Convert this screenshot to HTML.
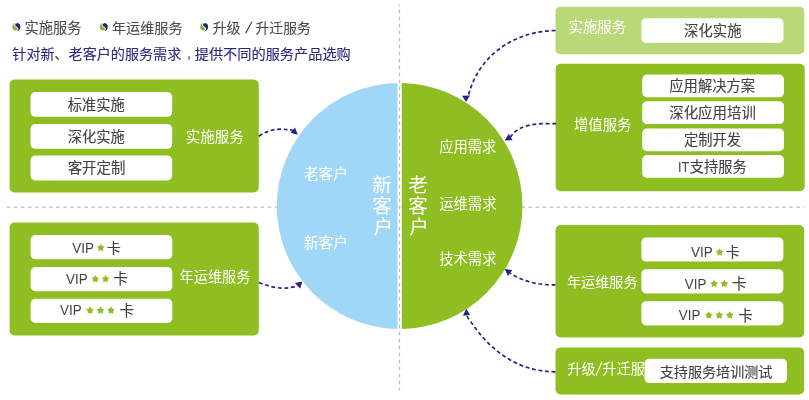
<!DOCTYPE html>
<html lang="zh-CN">
<head>
<meta charset="utf-8">
<title>服务产品选购</title>
<style>
html,body{margin:0;padding:0;background:#fff;}
body{width:809px;height:400px;overflow:hidden;position:relative;font-family:"Liberation Sans","Noto Sans CJK SC",sans-serif;}
svg{position:absolute;left:0;top:0;display:block;will-change:transform;}
svg text{font-family:"Liberation Sans","Noto Sans CJK SC",sans-serif;}
.sr{position:absolute;left:0;top:0;width:809px;height:400px;color:transparent;overflow:hidden;}
.sr span{position:absolute;white-space:nowrap;line-height:1.2;font-family:"Liberation Sans","Noto Sans CJK SC",sans-serif;}
</style>
</head>
<body>
<svg width="809" height="400" viewBox="0 0 809 400">
<path d="M399.5 4.5V390.4" stroke="#bcbcc4" stroke-width="1.3" stroke-dasharray="3.6 3.4" stroke-dashoffset="1.75" fill="none"/><path d="M6.75 207H804.3" stroke="#bcbcc4" stroke-width="1.25" stroke-dasharray="3.6 3.45" fill="none"/><path d="M397.50 83.07A122.95 122.95 0 0 0 397.50 328.93Z" fill="#a1d7f6"/><path d="M401.75 83.07A122.95 122.95 0 0 1 401.75 328.93Z" fill="#8fbe22"/><rect x="9.60" y="79.50" width="249.20" height="113.00" rx="5.0" fill="#8fbe22"/><rect x="9.60" y="222.60" width="249.20" height="112.90" rx="5.0" fill="#8fbe22"/><rect x="555.50" y="6.70" width="248.80" height="47.60" rx="5.0" fill="#b9d877"/><rect x="555.60" y="63.80" width="249.10" height="127.50" rx="5.0" fill="#8fbe22"/><rect x="555.50" y="225.00" width="248.70" height="112.50" rx="5.0" fill="#8fbe22"/><rect x="555.50" y="347.50" width="248.70" height="47.00" rx="5.0" fill="#8fbe22"/><g transform="translate(16.35 26.90) rotate(8)"><circle r="3.95" fill="#8ab836"/><path d="M0 -3.95 A3.95 3.95 0 0 1 0 3.95 A1.98 1.98 0 0 0 0 0 A1.98 1.98 0 0 1 0 -3.95 Z" fill="#23237c"/><path d="M0 -3.95 A1.98 1.98 0 0 0 0 0 A1.98 1.98 0 0 1 0 3.95" fill="none" stroke="#fff" stroke-width="0.9"/></g><g transform="translate(103.70 26.90) rotate(8)"><circle r="3.95" fill="#8ab836"/><path d="M0 -3.95 A3.95 3.95 0 0 1 0 3.95 A1.98 1.98 0 0 0 0 0 A1.98 1.98 0 0 1 0 -3.95 Z" fill="#23237c"/><path d="M0 -3.95 A1.98 1.98 0 0 0 0 0 A1.98 1.98 0 0 1 0 3.95" fill="none" stroke="#fff" stroke-width="0.9"/></g><g transform="translate(204.10 26.90) rotate(8)"><circle r="3.95" fill="#8ab836"/><path d="M0 -3.95 A3.95 3.95 0 0 1 0 3.95 A1.98 1.98 0 0 0 0 0 A1.98 1.98 0 0 1 0 -3.95 Z" fill="#23237c"/><path d="M0 -3.95 A1.98 1.98 0 0 0 0 0 A1.98 1.98 0 0 1 0 3.95" fill="none" stroke="#fff" stroke-width="0.9"/></g><text x="24.59" y="32.91" font-size="14.24" fill="#4a4a4a" stroke="#4a4a4a" stroke-width="0.09">实施服务</text><text x="111.92" y="32.87" font-size="14.13" fill="#4a4a4a" stroke="#4a4a4a" stroke-width="0.09">年运维服务</text><text x="212.44" y="32.87" font-size="14.12" fill="#4a4a4a" stroke="#4a4a4a" stroke-width="0.09">升级</text><path d="M245.60 33.10L251.90 21.70" stroke="#4a4a4a" stroke-width="1.20" fill="none"/><text x="255.45" y="32.77" font-size="13.87" fill="#4a4a4a" stroke="#4a4a4a" stroke-width="0.09">升迁服务</text><text x="12.31" y="58.55" font-size="14.09" fill="#2b2b7d" stroke="#2b2b7d" stroke-width="0.13">针对新、老客户的服务需求</text><text x="187.01" y="58.30" font-size="14.5" fill="#2b2b7d">,</text><text x="194.69" y="58.60" font-size="14.2" fill="#2b2b7d" stroke="#2b2b7d" stroke-width="0.13">提供不同的服务产品选购</text><rect x="30.50" y="92.00" width="141.70" height="24.80" rx="4.8" fill="#fff"/><rect x="30.50" y="124.00" width="141.70" height="24.80" rx="4.8" fill="#fff"/><rect x="30.50" y="155.60" width="141.70" height="24.80" rx="4.8" fill="#fff"/><text x="67.86" y="109.92" font-size="14.26" fill="#424242" stroke="#424242" stroke-width="0.11">标准实施</text><text x="67.66" y="141.54" font-size="14.31" fill="#424242" stroke="#424242" stroke-width="0.11">深化实施</text><text x="67.69" y="173.19" font-size="14.44" fill="#424242" stroke="#424242" stroke-width="0.11">客开定制</text><text x="185.77" y="142.02" font-size="14.52" fill="#fff">实施服务</text><rect x="30.60" y="235.10" width="141.70" height="24.20" rx="4.8" fill="#fff"/><rect x="30.60" y="267.00" width="141.70" height="24.20" rx="4.8" fill="#fff"/><rect x="30.60" y="298.80" width="141.70" height="24.20" rx="4.8" fill="#fff"/><text x="72.20" y="252.70" font-size="14.00" fill="#424242" text-anchor="start" textLength="21.8" lengthAdjust="spacingAndGlyphs">VIP</text><polygon points="100.80,243.75 102.10,246.06 104.70,246.58 102.91,248.53 103.21,251.17 100.80,250.06 98.39,251.17 98.69,248.53 96.90,246.58 99.50,246.06" fill="#8fbe22"/><text x="106.87" y="252.94" font-size="14.05" fill="#424242" stroke="#424242" stroke-width="0.11">卡</text><text x="66.00" y="284.00" font-size="14.00" fill="#424242" text-anchor="start" textLength="21.6" lengthAdjust="spacingAndGlyphs">VIP</text><polygon points="95.40,275.05 96.70,277.36 99.30,277.88 97.51,279.83 97.81,282.47 95.40,281.36 92.99,282.47 93.29,279.83 91.50,277.88 94.10,277.36" fill="#8fbe22"/><polygon points="105.50,275.05 106.80,277.36 109.40,277.88 107.61,279.83 107.91,282.47 105.50,281.36 103.09,282.47 103.39,279.83 101.60,277.88 104.20,277.36" fill="#8fbe22"/><text x="113.25" y="284.41" font-size="14.49" fill="#424242" stroke="#424242" stroke-width="0.11">卡</text><text x="60.00" y="315.30" font-size="14.00" fill="#424242" text-anchor="start" textLength="21.6" lengthAdjust="spacingAndGlyphs">VIP</text><polygon points="90.00,306.35 91.30,308.66 93.90,309.18 92.11,311.13 92.41,313.77 90.00,312.66 87.59,313.77 87.89,311.13 86.10,309.18 88.70,308.66" fill="#8fbe22"/><polygon points="100.50,306.35 101.80,308.66 104.40,309.18 102.61,311.13 102.91,313.77 100.50,312.66 98.09,313.77 98.39,311.13 96.60,309.18 99.20,308.66" fill="#8fbe22"/><polygon points="111.00,306.35 112.30,308.66 114.90,309.18 113.11,311.13 113.41,313.77 111.00,312.66 108.59,313.77 108.89,311.13 107.10,309.18 109.70,308.66" fill="#8fbe22"/><text x="119.45" y="315.71" font-size="14.49" fill="#424242" stroke="#424242" stroke-width="0.11">卡</text><text x="179.52" y="282.40" font-size="14.21" fill="#fff">年运维服务</text><text x="303.81" y="179.11" font-size="14.76" fill="#fff">老客户</text><text x="303.69" y="248.22" font-size="14.8" fill="#fff">新客户</text><text x="439.18" y="152.24" font-size="14.32" fill="#fff">应用需求</text><text x="439.17" y="209.14" font-size="14.33" fill="#fff">运维需求</text><text x="439.17" y="263.74" font-size="14.33" fill="#fff">技术需求</text><text x="372.24" y="191.79" font-size="19.5" fill="#fff">新</text><text x="372.25" y="212.71" font-size="19.5" fill="#fff">客</text><text x="373.45" y="233.70" font-size="19.5" fill="#fff">户</text><text x="408.32" y="191.86" font-size="19.5" fill="#fff">老</text><text x="408.15" y="212.71" font-size="19.5" fill="#fff">客</text><text x="409.35" y="233.70" font-size="19.5" fill="#fff">户</text><rect x="641.40" y="18.20" width="142.10" height="24.90" rx="4.8" fill="#fff"/><text x="568.58" y="31.77" font-size="14.4" fill="#fff">实施服务</text><text x="684.05" y="35.96" font-size="14.37" fill="#424242" stroke="#424242" stroke-width="0.11">深化实施</text><rect x="642.20" y="74.50" width="141.80" height="22.80" rx="4.8" fill="#fff"/><rect x="642.20" y="101.30" width="141.80" height="22.80" rx="4.8" fill="#fff"/><rect x="642.20" y="128.40" width="141.80" height="22.80" rx="4.8" fill="#fff"/><rect x="642.20" y="155.00" width="141.80" height="22.80" rx="4.8" fill="#fff"/><text x="574.01" y="130.05" font-size="14.34" fill="#fff">增值服务</text><text x="669.28" y="91.44" font-size="14.32" fill="#424242" stroke="#424242" stroke-width="0.11">应用解决方案</text><text x="669.25" y="118.49" font-size="14.44" fill="#424242" stroke="#424242" stroke-width="0.11">深化应用培训</text><text x="683.89" y="145.23" font-size="14.28" fill="#424242" stroke="#424242" stroke-width="0.11">定制开发</text><text x="678.00" y="171.60" font-size="14.00" fill="#424242" text-anchor="start" textLength="11.4" lengthAdjust="spacingAndGlyphs">IT</text><text x="689.69" y="171.63" font-size="14.29" fill="#424242" stroke="#424242" stroke-width="0.11">支持服务</text><rect x="641.40" y="237.40" width="142.00" height="24.20" rx="4.8" fill="#fff"/><rect x="641.40" y="269.20" width="142.00" height="24.20" rx="4.8" fill="#fff"/><rect x="641.40" y="301.20" width="142.00" height="24.20" rx="4.8" fill="#fff"/><text x="566.92" y="286.67" font-size="14.13" fill="#fff">年运维服务</text><text x="691.00" y="257.20" font-size="14.00" fill="#424242" text-anchor="start" textLength="21.8" lengthAdjust="spacingAndGlyphs">VIP</text><polygon points="719.60,248.25 720.90,250.56 723.50,251.08 721.71,253.03 722.01,255.67 719.60,254.56 717.19,255.67 717.49,253.03 715.70,251.08 718.30,250.56" fill="#8fbe22"/><text x="725.67" y="257.44" font-size="14.05" fill="#424242" stroke="#424242" stroke-width="0.11">卡</text><text x="684.80" y="288.70" font-size="14.00" fill="#424242" text-anchor="start" textLength="21.6" lengthAdjust="spacingAndGlyphs">VIP</text><polygon points="714.20,279.75 715.50,282.06 718.10,282.58 716.31,284.53 716.61,287.17 714.20,286.06 711.79,287.17 712.09,284.53 710.30,282.58 712.90,282.06" fill="#8fbe22"/><polygon points="724.30,279.75 725.60,282.06 728.20,282.58 726.41,284.53 726.71,287.17 724.30,286.06 721.89,287.17 722.19,284.53 720.40,282.58 723.00,282.06" fill="#8fbe22"/><text x="732.05" y="289.11" font-size="14.49" fill="#424242" stroke="#424242" stroke-width="0.11">卡</text><text x="678.80" y="320.20" font-size="14.00" fill="#424242" text-anchor="start" textLength="21.6" lengthAdjust="spacingAndGlyphs">VIP</text><polygon points="708.80,311.25 710.10,313.56 712.70,314.08 710.91,316.03 711.21,318.67 708.80,317.56 706.39,318.67 706.69,316.03 704.90,314.08 707.50,313.56" fill="#8fbe22"/><polygon points="719.30,311.25 720.60,313.56 723.20,314.08 721.41,316.03 721.71,318.67 719.30,317.56 716.89,318.67 717.19,316.03 715.40,314.08 718.00,313.56" fill="#8fbe22"/><polygon points="729.80,311.25 731.10,313.56 733.70,314.08 731.91,316.03 732.21,318.67 729.80,317.56 727.39,318.67 727.69,316.03 725.90,314.08 728.50,313.56" fill="#8fbe22"/><text x="738.25" y="320.61" font-size="14.49" fill="#424242" stroke="#424242" stroke-width="0.11">卡</text><text x="567.54" y="373.85" font-size="14.07" fill="#fff">升级</text><path d="M596.00 375.40L602.00 361.80" stroke="#fff" stroke-width="1.15" fill="none"/><text x="602.13" y="373.94" font-size="14.31" fill="#fff">升迁服务</text><rect x="644.50" y="358.70" width="142.50" height="24.40" rx="4.8" fill="#fff"/><text x="659.79" y="376.55" font-size="14.08" fill="#424242" stroke="#424242" stroke-width="0.11">支持服务培训测试</text><path d="M258.8 136.2C270.6 128.6 279.4 128.0 292.8 130.4" fill="none" stroke="#25257d" stroke-width="1.7" stroke-dasharray="3.9 2.7"/><polygon points="297.80,134.80 295.00,127.40 290.50,132.80" fill="#25257d"/><path d="M258.8 282.5C272.2 287.8 283.6 290.1 297.6 285.9" fill="none" stroke="#25257d" stroke-width="1.7" stroke-dasharray="3.9 2.7"/><polygon points="302.20,281.40 295.00,283.00 300.30,288.80" fill="#25257d"/><path d="M555.5 30.5C514.7 31.2 478.7 54.8 468.4 95.5" fill="none" stroke="#25257d" stroke-width="1.7" stroke-dasharray="3.9 2.7"/><polygon points="466.00,102.00 462.00,95.70 470.00,95.40" fill="#25257d"/><path d="M556.0 123.6C541.7 123.6 519.3 122.5 510.6 137.0" fill="none" stroke="#25257d" stroke-width="1.7" stroke-dasharray="3.9 2.7"/><polygon points="504.70,140.50 508.80,133.70 512.60,140.20" fill="#25257d"/><path d="M555.5 284.8C539.8 285.2 523.2 282.1 510.2 273.0" fill="none" stroke="#25257d" stroke-width="1.7" stroke-dasharray="3.9 2.7"/><polygon points="504.70,269.00 512.30,270.00 508.00,276.10" fill="#25257d"/><path d="M555.5 371.8C514.5 371.6 487.5 348.0 466.6 315.6" fill="none" stroke="#25257d" stroke-width="1.7" stroke-dasharray="3.9 2.7"/><polygon points="466.20,308.70 462.90,315.80 470.10,315.00" fill="#25257d"/>
</svg>
<div class="sr">
<span style="left:24.6px;top:19.0px;font-size:14.2px">实施服务</span>
<span style="left:111.9px;top:19.0px;font-size:14.1px">年运维服务</span>
<span style="left:212.4px;top:19.0px;font-size:14.1px">升级</span>
<span style="left:245px;top:19px;font-size:14px">/</span>
<span style="left:255.4px;top:19.2px;font-size:13.9px">升迁服务</span>
<span style="left:12.3px;top:44.7px;font-size:14.1px">针对新、老客户的服务需求</span>
<span style="left:194.7px;top:44.7px;font-size:14.2px">提供不同的服务产品选购</span>
<span style="left:181px;top:45px;font-size:14px">，</span>
<span style="left:67.9px;top:95.9px;font-size:14.3px">标准实施</span>
<span style="left:67.7px;top:127.5px;font-size:14.3px">深化实施</span>
<span style="left:67.7px;top:159.0px;font-size:14.4px">客开定制</span>
<span style="left:185.8px;top:127.8px;font-size:14.5px">实施服务</span>
<span style="left:106.9px;top:239.2px;font-size:14.0px">卡</span>
<span style="left:113.2px;top:270.2px;font-size:14.5px">卡</span>
<span style="left:119.4px;top:301.5px;font-size:14.5px">卡</span>
<span style="left:179.5px;top:268.5px;font-size:14.2px">年运维服务</span>
<span style="left:303.8px;top:164.6px;font-size:14.8px">老客户</span>
<span style="left:303.7px;top:233.7px;font-size:14.8px">新客户</span>
<span style="left:439.2px;top:138.2px;font-size:14.3px">应用需求</span>
<span style="left:439.2px;top:195.1px;font-size:14.3px">运维需求</span>
<span style="left:439.2px;top:249.7px;font-size:14.3px">技术需求</span>
<span style="left:372.2px;top:174.6px;font-size:19px;width:1em;line-height:1.03">新客户</span>
<span style="left:408.1px;top:174.6px;font-size:19px;width:1em;line-height:1.03">老客户</span>
<span style="left:568.6px;top:17.7px;font-size:14.4px">实施服务</span>
<span style="left:684.1px;top:21.9px;font-size:14.4px">深化实施</span>
<span style="left:574.0px;top:116.0px;font-size:14.3px">增值服务</span>
<span style="left:669.3px;top:77.4px;font-size:14.3px">应用解决方案</span>
<span style="left:669.3px;top:104.3px;font-size:14.4px">深化应用培训</span>
<span style="left:683.9px;top:131.2px;font-size:14.3px">定制开发</span>
<span style="left:689.7px;top:157.6px;font-size:14.3px">支持服务</span>
<span style="left:566.9px;top:272.8px;font-size:14.1px">年运维服务</span>
<span style="left:725.7px;top:243.7px;font-size:14.0px">卡</span>
<span style="left:732.0px;top:274.9px;font-size:14.5px">卡</span>
<span style="left:738.2px;top:306.4px;font-size:14.5px">卡</span>
<span style="left:567.5px;top:360.1px;font-size:14.1px">升级</span>
<span style="left:596px;top:360px;font-size:14px">/</span>
<span style="left:602.1px;top:359.9px;font-size:14.3px">升迁服务</span>
<span style="left:659.8px;top:362.7px;font-size:14.1px">支持服务培训测试</span>
</div>
</body>
</html>
